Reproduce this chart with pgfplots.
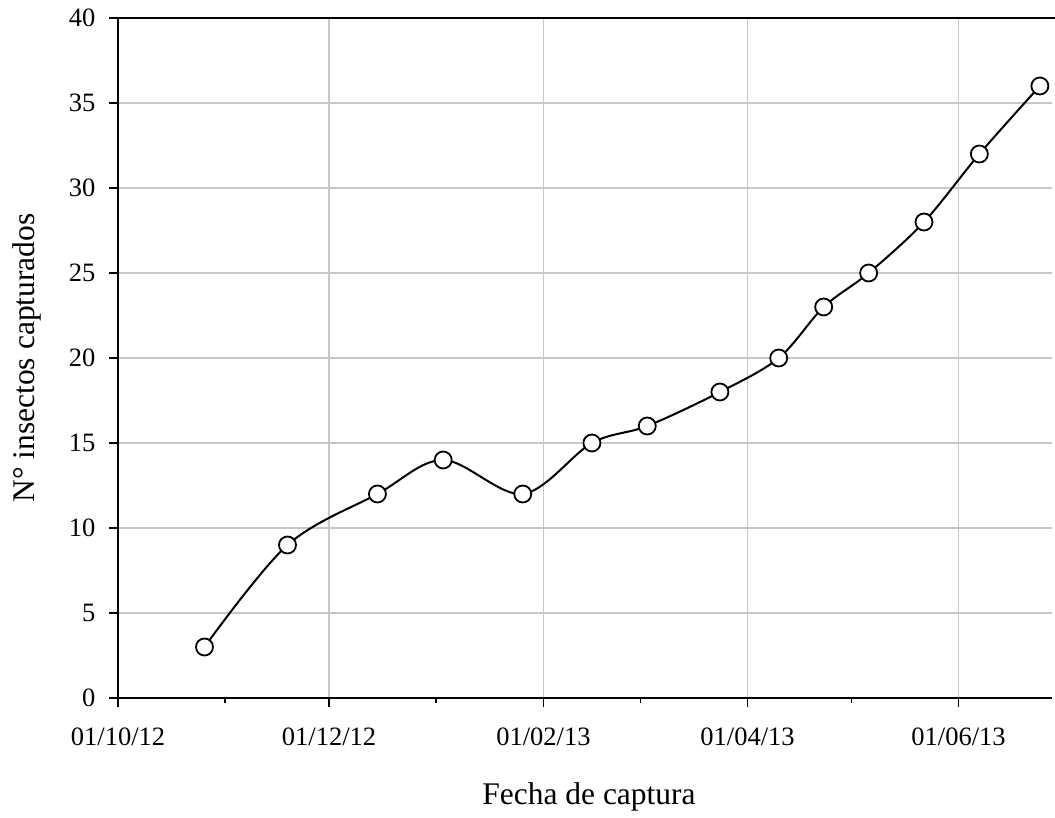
\documentclass[border=0pt]{standalone}
\usepackage{fontspec}
\setmainfont{Liberation Serif}
\usepackage{pgfplots}
\pgfplotsset{compat=1.18}

% capture counts; x = days since 01/10/2012
\pgfplotstableread{
day count
25  3
49  9
75  12
94  14
117 12
137 15
153 16
174 18
191 20
204 23
217 25
233 28
249 32
266.5 36
}\capturas

\begin{document}
\begin{tikzpicture}
\useasboundingbox (-118pt,-119pt) rectangle (937pt,698pt);
\begin{axis}[
  scale only axis,
  width=934pt, height=680pt,
  xmin=0, xmax=270, ymin=0, ymax=40,
  axis x line*=bottom, axis y line*=left,
  axis line style={line width=1.8pt, -},
  xtick={0,61,123,182,243},
  xticklabels={01/10/12,01/12/12,01/02/13,01/04/13,01/06/13},
  minor xtick={31,92,151,212},
  ytick={0,5,...,40},
  tick align=outside,
  major tick length=9pt, minor tick length=5pt,
  every tick/.style={black, line width=1.6pt},
  ymajorgrids, xmajorgrids,
  major grid style={black!22, line width=1.6pt},
  tick label style={font=\fontsize{26.5}{31}\selectfont},
  /pgf/number format/assume math mode=true,
  xticklabel style={anchor=base, yshift=-38pt},
  yticklabel style={xshift=-10pt},
  xlabel={Fecha de captura},
  ylabel={N° insectos capturados},
  every axis x label/.style={at={(axis description cs:0.5043,-0.1559)}, anchor=base,
    font=\fontsize{31.5}{36}\selectfont},
  every axis y label/.style={at={(axis description cs:-0.0975,0.5)}, anchor=center,
    rotate=90, font=\fontsize{31.5}{36}\selectfont},
  clip=false,
]
\draw[line width=1.8pt] (rel axis cs:0,1) -- (rel axis cs:1,1) -- ++(3pt,0);
\addplot[black, line width=2pt, smooth, tension=0.55,
  mark=*, mark size=8.5pt, mark options={fill=white, line width=1.8pt}]
  table[x=day, y=count] {\capturas};
\end{axis}
\end{tikzpicture}
\end{document}
